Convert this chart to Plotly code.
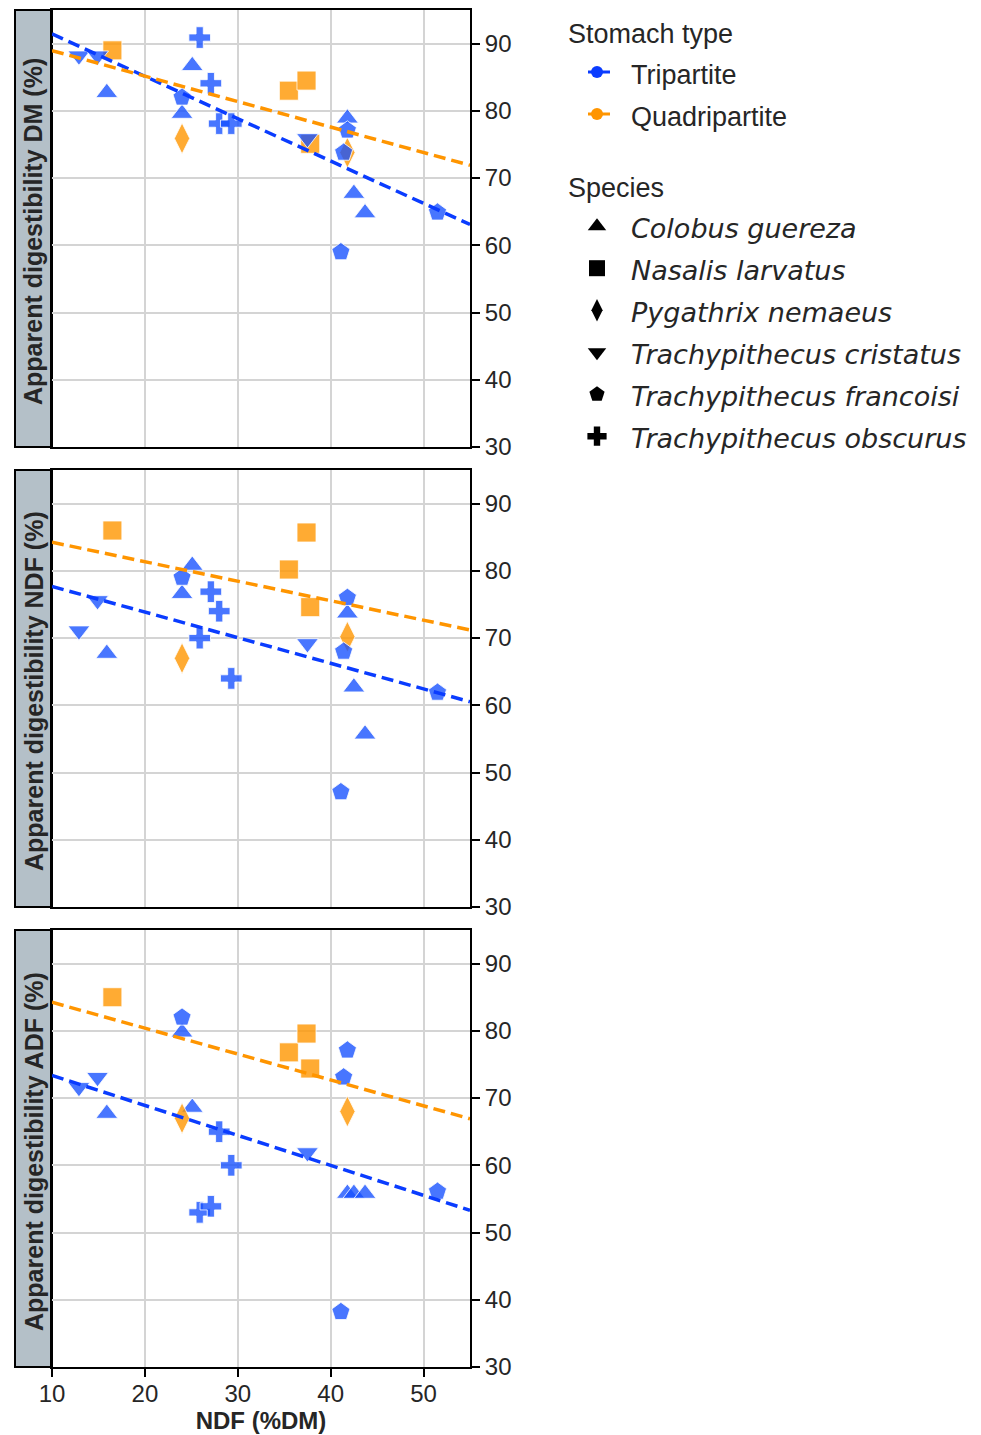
import numpy as np
import plotly.graph_objects as go

# ---------------- data ----------------
species = ["Colobus guereza", "Nasalis larvatus", "Pygathrix nemaeus",
           "Trachypithecus cristatus", "Trachypithecus francoisi", "Trachypithecus obscurus"]
species_stomach = ["Tripartite", "Quadripartite", "Quadripartite",
                   "Tripartite", "Tripartite", "Tripartite"]
stomach_types = ["Tripartite", "Quadripartite"]

# NDF (%DM) per observation, by species
ndf_colobus = [15.9, 24.0, 25.1, 41.8, 42.5, 43.7]
ndf_nasalis = [16.5, 35.5, 37.4, 37.8]
ndf_pygathrix = [24.0, 41.8]
ndf_cristatus = [12.9, 14.9, 37.5]
ndf_francoisi = [24.0, 41.8, 41.4, 41.1, 51.5]
ndf_obscurus = [25.9, 27.1, 28.0, 29.3]

# Apparent digestibility of DM (%)
dm_colobus = [82.7, 79.6, 86.7, 78.9, 67.7, 64.8]
dm_nasalis = [89.0, 83.0, 84.5, 75.1]
dm_pygathrix = [75.9, 73.8]
dm_cristatus = [88.2, 88.2, 75.9]
dm_francoisi = [82.0, 77.1, 73.8, 59.0, 64.9]
dm_obscurus = [90.9, 84.1, 78.1, 78.1]

# Apparent digestibility of NDF (%)
ndfd_colobus = [67.7, 76.6, 80.8, 73.7, 62.7, 55.7]
ndfd_nasalis = [86.0, 80.2, 85.7, 74.6]
ndfd_pygathrix = [67.0, 70.2]
ndfd_cristatus = [71.1, 75.6, 69.2]
ndfd_francoisi = [79.0, 76.0, 68.0, 47.1, 61.9]
ndfd_obscurus = [70.0, 76.9, 74.0, 64.0]

# Apparent digestibility of ADF (%)
adfd_colobus = [67.7, 79.8, 68.6, 55.8, 55.8, 55.8]
adfd_nasalis = [85.0, 76.8, 79.6, 74.4]
adfd_pygathrix = [67.0, 68.0]
adfd_cristatus = [71.6, 73.1, 61.9]
adfd_francoisi = [82.0, 77.1, 73.1, 38.2, 56.1]
adfd_obscurus = [53.0, 53.9, 65.0, 60.0]

# fitted trend lines: (intercept at NDF=0, slope), per panel
trend_tripartite = [(97.74, -0.630), (81.49, -0.381), (77.83, -0.446)]
trend_quadripartite = [(92.75, -0.379), (87.16, -0.290), (88.10, -0.385)]

panel_titles = ["Apparent digestibility DM (%)",
                "Apparent digestibility NDF (%)",
                "Apparent digestibility ADF (%)"]
x_ticks = [10, 20, 30, 40, 50]
y_ticks = [30, 40, 50, 60, 70, 80, 90]
x_title = "NDF (%DM)"

ndf_all = [ndf_colobus, ndf_nasalis, ndf_pygathrix, ndf_cristatus, ndf_francoisi, ndf_obscurus]
panels = [
    [dm_colobus, dm_nasalis, dm_pygathrix, dm_cristatus, dm_francoisi, dm_obscurus],
    [ndfd_colobus, ndfd_nasalis, ndfd_pygathrix, ndfd_cristatus, ndfd_francoisi, ndfd_obscurus],
    [adfd_colobus, adfd_nasalis, adfd_pygathrix, adfd_cristatus, adfd_francoisi, adfd_obscurus],
]
trends = {"Tripartite": trend_tripartite, "Quadripartite": trend_quadripartite}

# ---------------- styles ----------------
W, H = 981, 1435
FONT = "Liberation Sans, Arial, sans-serif"
TXT = "#262626"
symbols = ["triangle-up", "square", "diamond-tall", "triangle-down", "pentagon", "cross"]
sizes = [19, 19, 22, 19, 19, 18]
marker_col = {"Tripartite": "rgba(20,80,255,0.78)", "Quadripartite": "rgba(255,150,0,0.80)"}
line_col = {"Tripartite": "#0a3cff", "Quadripartite": "#ff9500"}

# pixel layout
px_x0, px_x1 = 52, 470
panel_px = [(10, 447), (470, 907), (930, 1367)]
strip_x0 = 15

def py(v):
    return 1 - v / H

fig = go.Figure()

x_range = [10, 55]
for pi, ys in enumerate(panels):
    xa = "x" if pi == 0 else f"x{pi+1}"
    ya = "y" if pi == 0 else f"y{pi+1}"
    for si, sp in enumerate(species):
        st = species_stomach[si]
        fig.add_trace(go.Scatter(
            x=ndf_all[si], y=ys[si], mode="markers", xaxis=xa, yaxis=ya,
            showlegend=False, name=sp,
            marker=dict(symbol=symbols[si], size=sizes[si], color=marker_col[st],
                        line=dict(color="rgba(255,255,255,0.8)", width=1))))
    for st in stomach_types:
        a, b = trends[st][pi]
        xl = np.array(x_range, dtype=float)
        fig.add_trace(go.Scatter(
            x=xl, y=a + b * xl, mode="lines", xaxis=xa, yaxis=ya, showlegend=False,
            line=dict(color=line_col[st], width=3.5, dash="12px,6px"), hoverinfo="skip"))

# legend entries
LEG = 27
for st in stomach_types:
    fig.add_trace(go.Scatter(
        x=[None], y=[None], mode="lines+markers", name=f'<span style="font-size:{LEG}px">{st}</span>',
        legendgroup="stomach", legendgrouptitle=dict(text="Stomach type", font=dict(size=LEG, color=TXT, family=FONT)),
        line=dict(color=line_col[st], width=3, dash="0px,20px,22px,200px"),
        marker=dict(symbol="circle", size=12, color=line_col[st])))
for si, sp in enumerate(species):
    fig.add_trace(go.Scatter(
        x=[None], y=[None], mode="markers",
        name=f'<span style="font-size:{LEG}px;font-family:DejaVu Sans;font-style:oblique">{sp}</span>',
        legendgroup="species", legendgrouptitle=dict(text="Species", font=dict(size=LEG, color=TXT, family=FONT)),
        marker=dict(symbol=symbols[si], size=sizes[si], color="black")))

layout = dict(
    width=W, height=H, margin=dict(l=0, r=0, t=0, b=0),
    paper_bgcolor="white", plot_bgcolor="white",
    font=dict(family=FONT, size=24, color=TXT),
    showlegend=True,
    legend=dict(x=563 / W, y=py(8), xanchor="left", yanchor="top",
                font=dict(size=30, color=TXT, family=FONT), tracegroupgap=32,
                itemwidth=58, bgcolor="rgba(0,0,0,0)"),
)
shapes = []
annotations = []
for pi in range(3):
    top, bot = panel_px[pi]
    sx = "" if pi == 0 else str(pi + 1)
    layout[f"xaxis{sx}"] = dict(
        domain=[px_x0 / W, px_x1 / W], range=x_range, anchor=f"y{sx}",
        tickvals=x_ticks, showgrid=True, gridcolor="#d4d4d4", gridwidth=2,
        showline=True, linecolor="black", linewidth=2, mirror=True,
        zeroline=False, automargin=False,
        ticks="outside" if pi == 2 else "", ticklen=8, tickwidth=2, tickcolor="black",
        showticklabels=(pi == 2), tickfont=dict(size=24, color=TXT), ticklabelstandoff=-4,
        matches=None if pi == 0 else "x",
        title=dict(text=f"<b>{x_title}</b>", font=dict(size=24, color=TXT), standoff=0) if pi == 2 else None,
    )
    layout[f"yaxis{sx}"] = dict(
        domain=[py(bot), py(top)], range=[30, 95], anchor=f"x{sx}", side="right",
        tickvals=y_ticks, showgrid=True, gridcolor="#d4d4d4", gridwidth=2,
        showline=True, linecolor="black", linewidth=2, mirror=True,
        zeroline=False, automargin=False,
        ticks="outside", ticklen=8, tickwidth=2, tickcolor="black",
        tickfont=dict(size=24, color=TXT),
    )
    shapes.append(dict(type="rect", xref="paper", yref="paper",
                       x0=strip_x0 / W, x1=px_x0 / W, y0=py(bot), y1=py(top),
                       fillcolor="#b4c0c8", line=dict(color="black", width=2), layer="below"))
    annotations.append(dict(xref="paper", yref="paper", x=(strip_x0 + px_x0) / 2 / W,
                            y=py((top + bot) / 2 + 3), text=f"<b>{panel_titles[pi]}</b>",
                            textangle=-90, showarrow=False, xanchor="center", yanchor="middle",
                            font=dict(size=25, color=TXT, family=FONT)))
layout["shapes"] = shapes
layout["annotations"] = annotations
fig.update_layout(**layout)

fig.write_html("out.html", config={"displayModeBar": False},
               post_script="document.body.style.margin='0';document.body.style.padding='0';")
